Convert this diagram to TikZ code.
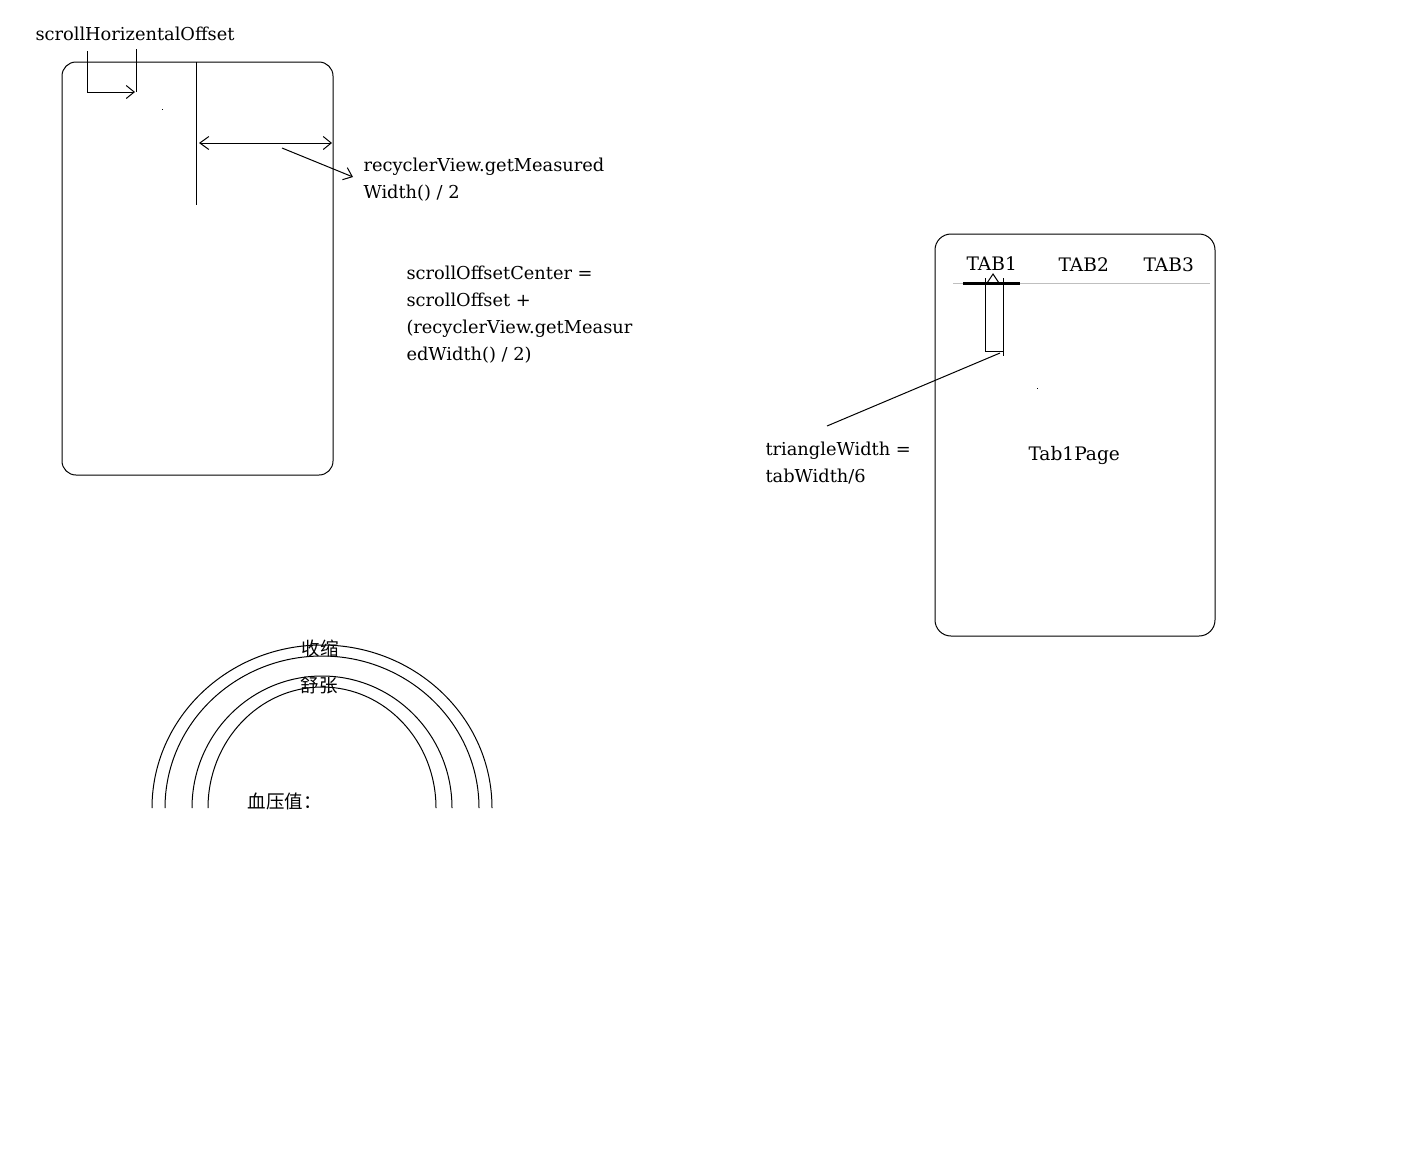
\documentclass[tikz,border=0pt]{standalone}
\usepackage{fontspec}
\setmainfont{DejaVu Serif}
\newfontfamily\cjk{Noto Sans CJK SC}
\usetikzlibrary{arrows.meta}
\begin{document}
\begin{tikzpicture}[x=1pt,y=-1pt,line width=1pt,
  lbl/.style={anchor=base west,inner sep=0pt,font=\fontsize{17.8}{18}\selectfont},
  tablbl/.style={anchor=base west,inner sep=0pt,font=\fontsize{18.6}{19}\selectfont},
  cjklbl/.style={inner sep=0pt,font=\cjk\fontsize{18.5}{19}\selectfont},
  barb/.style={-{Straight Barb[length=8pt,width=13pt,line width=1pt]}},
  dbarb/.style={{Straight Barb[length=9pt,width=13pt,line width=1pt]}-{Straight Barb[length=8pt,width=13pt,line width=1pt]}},
  frame/.style={draw=black,line width=1pt}]
\useasboundingbox[fill=white] (0,0) rectangle (1415,1160);

% ---------- left phone ----------
\draw[frame,rounded corners=14pt] (62,62) rectangle (333,475);
\coordinate (midtop) at (196,62);
\coordinate (midbot) at (196,205);
\draw (midtop) -- (midbot);
\coordinate (hl) at (199,143);
\coordinate (hr) at (332,143);
\draw[dbarb] (hl) -- (hr);

\coordinate (bA) at (87,51);
\coordinate (bB) at (87,92);
\coordinate (bC) at (135,92);
\draw[barb] (bA) -- (bB) -- (bC);
\coordinate (bD) at (136,49);
\coordinate (bE) at (136,92);
\draw (bD) -- (bE);
\fill (161.5,108.5) rectangle (162.5,109.5);

\node[lbl] (tso) at (35,40) {scrollHorizentalOffset};
\node[lbl] (trv1) at (363,171) {recyclerView.getMeasured};
\node[lbl] (trv2) at (363,198) {Width() / 2};
\coordinate (pa) at (282,148);
\coordinate (pb) at (353,177);
\draw[barb] (pa) -- (pb);

\node[lbl] (tc1) at (406,279) {scrollOffsetCenter =};
\node[lbl] (tc2) at (406,306) {scrollOffset +};
\node[lbl] (tc3) at (406,333) {(recyclerView.getMeasur};
\node[lbl] (tc4) at (406,360) {edWidth() / 2)};

% ---------- right phone ----------
\draw[frame,rounded corners=16pt] (935,234) rectangle (1215,636);
\coordinate (gl) at (953,283);
\coordinate (gr) at (1210,283);
\draw[draw=black!25] (gl) -- (gr);
\coordinate (tl) at (963,283);
\coordinate (tr) at (1020,283);
\draw[line width=3pt] (tl) -- (tr);
\draw (985,278) -- (985,351) -- (1003,351);
\draw (1003,278) -- (1003,356);
\draw (987,283) -- (993,274) -- (999,283);
\coordinate (la) at (1000,353);
\coordinate (lb) at (827,426);
\draw (la) -- (lb);
\fill (1036.5,388) rectangle (1037.5,389);

\node[tablbl] (t1) at (966,270) {TAB1};
\node[tablbl] (t2) at (1058,271) {TAB2};
\node[tablbl] (t3) at (1143,271.5) {TAB3};
\node[tablbl] (tp) at (1028,460) {Tab1Page};
\node[lbl] (tw1) at (765,455) {triangleWidth =};
\node[lbl] (tw2) at (765,482) {tabWidth/6};

% ---------- arcs ----------
\coordinate (ac) at (322,808);
\draw ([xshift=-170pt]ac) arc[start angle=180,end angle=0,x radius=170pt,y radius=163pt];
\draw ([xshift=-157pt]ac) arc[start angle=180,end angle=0,x radius=157pt,y radius=152pt];
\draw ([xshift=-130pt]ac) arc[start angle=180,end angle=0,x radius=130pt,y radius=132pt];
\draw ([xshift=-114pt]ac) arc[start angle=180,end angle=0,x radius=114pt,y radius=121pt];
\node[cjklbl] (ss) at (320,648) {收缩};
\node[cjklbl] (sz) at (319,685) {舒张};
\node[cjklbl,anchor=west] (xy) at (247,801) {血压值：};
\end{tikzpicture}
\end{document}
